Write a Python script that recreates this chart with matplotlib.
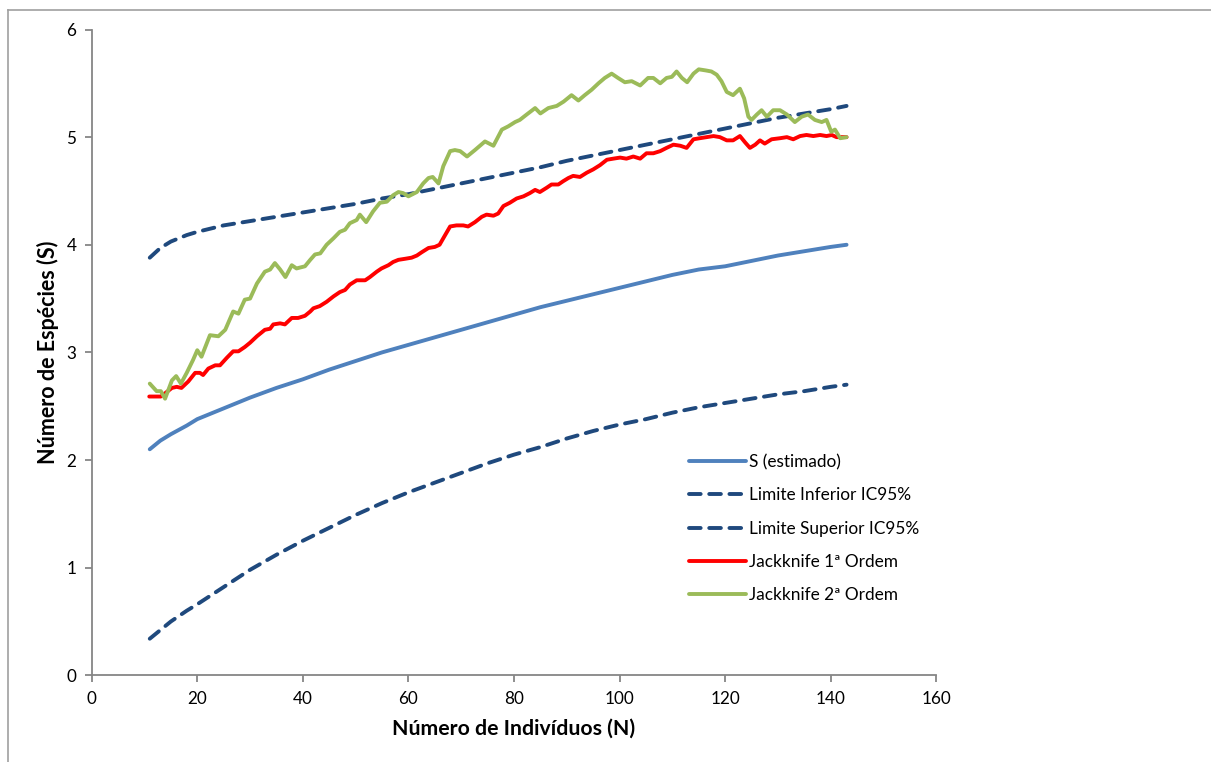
import matplotlib
matplotlib.use("Agg")
import matplotlib.pyplot as plt
from matplotlib.lines import Line2D

plt.rcParams['font.family'] = ['Lato', 'DejaVu Sans']

# Smooth curves: sample size N and species richness S
n_smooth = [11, 13, 15, 18, 20, 25, 30, 35, 40, 45, 50, 55, 60, 65, 70, 75, 80,
            85, 90, 95, 100, 105, 110, 115, 120, 125, 130, 135, 140, 143]
s_estimado = [2.10, 2.18, 2.24, 2.32, 2.38, 2.48, 2.58, 2.67, 2.75, 2.84, 2.92,
              3.00, 3.07, 3.14, 3.21, 3.28, 3.35, 3.42, 3.48, 3.54, 3.60, 3.66,
              3.72, 3.77, 3.80, 3.85, 3.90, 3.94, 3.98, 4.00]
limite_inferior = [0.34, 0.42, 0.50, 0.60, 0.66, 0.82, 0.98, 1.12, 1.25, 1.37,
                   1.49, 1.60, 1.70, 1.79, 1.88, 1.97, 2.05, 2.12, 2.20, 2.27,
                   2.33, 2.38, 2.44, 2.49, 2.53, 2.57, 2.61, 2.64, 2.68, 2.70]
limite_superior = [3.88, 3.97, 4.03, 4.09, 4.12, 4.18, 4.22, 4.26, 4.30, 4.34,
                   4.38, 4.43, 4.47, 4.52, 4.57, 4.62, 4.67, 4.72, 4.78, 4.83,
                   4.88, 4.93, 4.98, 5.03, 5.08, 5.13, 5.18, 5.22, 5.26, 5.29]

# Jackknife 1st order
n_jack1 = [10.9, 13.1, 13.9, 15.2, 16.1, 17.0, 18.3, 19.6, 20.5, 21.1, 22.1, 23.4,
           24.3, 25.6, 26.8, 27.8, 29.0, 30.0, 31.3, 32.8, 33.8, 34.4, 35.7, 36.6,
           37.9, 39.1, 40.4, 41.4, 42.0, 43.2, 44.5, 45.8, 47.0, 48.0, 48.9, 50.2,
           51.8, 52.7, 54.0, 54.9, 56.2, 57.1, 58.1, 59.4, 60.6, 61.6, 62.5, 63.8,
           65.0, 65.9, 66.6, 67.9, 69.1, 70.4, 71.3, 72.6, 73.9, 74.8, 76.1, 77.0,
           78.0, 79.2, 80.5, 81.8, 83.0, 84.0, 84.9, 86.2, 87.1, 88.4, 89.3, 90.3,
           91.2, 92.5, 93.8, 95.0, 96.3, 97.6, 98.8, 100.1, 101.3, 102.6, 103.9,
           105.1, 106.4, 107.7, 108.9, 110.2, 111.5, 112.7, 114.0, 115.2, 116.5,
           117.8, 119.0, 120.3, 121.5, 122.8, 123.8, 124.7, 125.7, 126.6, 127.5,
           128.8, 130.4, 131.7, 132.9, 134.2, 135.4, 136.7, 138.0, 139.2, 140.2,
           141.1, 143.0]
jack1 = [2.59, 2.59, 2.62, 2.67, 2.68, 2.67, 2.73, 2.81, 2.81, 2.79, 2.85, 2.88,
         2.88, 2.95, 3.01, 3.01, 3.05, 3.09, 3.15, 3.21, 3.22, 3.26, 3.27, 3.26,
         3.32, 3.32, 3.34, 3.38, 3.41, 3.43, 3.47, 3.52, 3.56, 3.58, 3.63, 3.67,
         3.67, 3.70, 3.75, 3.78, 3.81, 3.84, 3.86, 3.87, 3.88, 3.90, 3.93, 3.97,
         3.98, 4.00, 4.06, 4.17, 4.18, 4.18, 4.17, 4.21, 4.26, 4.28, 4.27, 4.29,
         4.36, 4.39, 4.43, 4.45, 4.48, 4.51, 4.49, 4.53, 4.56, 4.56, 4.59, 4.62,
         4.64, 4.63, 4.67, 4.70, 4.74, 4.79, 4.80, 4.81, 4.80, 4.82, 4.80,
         4.85, 4.85, 4.87, 4.90, 4.93, 4.92, 4.90, 4.98, 4.99, 5.00,
         5.01, 5.00, 4.97, 4.97, 5.01, 4.95, 4.90, 4.93, 4.97, 4.94,
         4.98, 4.99, 5.00, 4.98, 5.01, 5.02, 5.01, 5.02, 5.01, 5.02,
         5.00, 5.00]

# Jackknife 2nd order
n_jack2 = [11.0, 12.3, 13.1, 13.9, 15.2, 16.0, 16.9, 18.0, 19.2, 20.0, 20.8, 22.4,
           24.0, 25.3, 26.8, 27.8, 29.0, 30.0, 31.3, 32.8, 33.8, 34.7, 35.7, 36.7,
           37.9, 38.8, 40.4, 41.4, 42.3, 43.3, 44.5, 45.8, 47.0, 48.0, 48.9, 50.2,
           50.8, 52.0, 53.3, 54.6, 55.9, 57.1, 58.1, 59.0, 60.0, 61.6, 62.8, 63.8,
           64.6, 65.7, 66.6, 67.9, 68.8, 69.8, 71.1, 72.6, 74.5, 76.1, 77.7, 78.9,
           80.2, 81.1, 82.4, 84.0, 85.0, 86.5, 88.1, 89.4, 90.9, 92.2, 93.4, 94.7,
           96.0, 97.2, 98.5, 99.7, 101.0, 102.3, 103.9, 105.4, 106.4, 107.7, 108.9,
           109.9, 110.8, 111.8, 112.8, 114.0, 115.0, 116.3, 117.4, 118.4, 119.3,
           120.3, 121.5, 122.8, 123.6, 124.4, 125.0, 126.0, 126.9, 127.9, 129.1,
           130.4, 131.7, 133.2, 134.5, 135.7, 137.0, 138.3, 139.2, 140.1, 140.8,
           141.8, 143.0]
jack2 = [2.71, 2.64, 2.64, 2.57, 2.74, 2.78, 2.71, 2.81, 2.93, 3.02, 2.96, 3.16,
         3.15, 3.21, 3.38, 3.36, 3.49, 3.50, 3.64, 3.75, 3.77, 3.83, 3.77, 3.70,
         3.81, 3.78, 3.80, 3.86, 3.91, 3.92, 4.00, 4.06, 4.12, 4.14, 4.20, 4.23,
         4.28, 4.21, 4.31, 4.39, 4.40, 4.46, 4.49, 4.48, 4.45, 4.49, 4.57, 4.62,
         4.63, 4.57, 4.73, 4.87, 4.88, 4.87, 4.82, 4.88, 4.96, 4.92, 5.07, 5.10,
         5.14, 5.16, 5.21, 5.27, 5.22, 5.27, 5.29, 5.33, 5.39, 5.34, 5.39, 5.44,
         5.50, 5.55, 5.59, 5.55, 5.51, 5.52, 5.48, 5.55, 5.55, 5.50, 5.55,
         5.56, 5.61, 5.55, 5.51, 5.59, 5.63, 5.62, 5.61, 5.58, 5.52,
         5.42, 5.39, 5.45, 5.36, 5.19, 5.16, 5.21, 5.25, 5.19, 5.25,
         5.25, 5.21, 5.14, 5.19, 5.21, 5.16, 5.14, 5.16, 5.05, 5.07,
         4.99, 5.00]

labels = ['S (estimado)', 'Limite Inferior IC95%', 'Limite Superior IC95%',
          'Jackknife 1ª Ordem', 'Jackknife 2ª Ordem']

blue = '#4F81BD'
navy = '#1F497D'
red = '#FF0000'
green = '#9BBB59'
axis_gray = '#868686'

W, H = 1211, 762
fig = plt.figure(figsize=(W / 100, H / 100), dpi=100)
ax = fig.add_axes([91.7 / W, 1 - 675.3 / H, (936.3 - 91.7) / W, (675.3 - 29.5) / H])

lw = 2.8
dash = (3.0, 2.2)
l1, = ax.plot(n_smooth, s_estimado, color=blue, lw=lw, solid_capstyle='round')
l2, = ax.plot(n_smooth, limite_inferior, color=navy, lw=lw, dashes=dash,
              dash_capstyle='round')
l3, = ax.plot(n_smooth, limite_superior, color=navy, lw=lw, dashes=dash,
              dash_capstyle='round')
l4, = ax.plot(n_jack1, jack1, color=red, lw=lw, solid_joinstyle='round',
              solid_capstyle='round')
l5, = ax.plot(n_jack2, jack2, color=green, lw=lw, solid_joinstyle='round',
              solid_capstyle='round')

ax.set_xlim(0, 160)
ax.set_ylim(0, 6)
ax.set_xticks(range(0, 161, 20))
ax.set_yticks(range(0, 7))
for side in ('top', 'right'):
    ax.spines[side].set_visible(False)
for side in ('left', 'bottom'):
    ax.spines[side].set_color(axis_gray)
    ax.spines[side].set_linewidth(1.3)
ax.tick_params(direction='out', length=5, width=1.3, color=axis_gray,
               labelsize=12.3, labelcolor='black', pad=6)

ax.set_xlabel('Número de Indivíduos (N)', fontsize=15.3, fontweight='bold', labelpad=9)
ax.set_ylabel('Número de Espécies (S)', fontsize=15.5, fontweight='bold', labelpad=5)

leg = fig.legend([l1, l2, l3, l4, l5], labels, loc='upper left',
                 bbox_to_anchor=(689 / W, 1 - 454 / H), frameon=False,
                 fontsize=12.4, handlelength=3.3, handletextpad=0.2,
                 labelspacing=1.0, borderpad=0, borderaxespad=0)

# Outer chart frame (left and top edges)
fig.add_artist(Line2D([8 / W, 8 / W], [0, 1 - 10 / H], color='#A0A0A0', lw=1.2,
                      transform=fig.transFigure))
fig.add_artist(Line2D([8 / W, 1], [1 - 10 / H, 1 - 10 / H], color='#A0A0A0', lw=1.2,
                      transform=fig.transFigure))

fig.savefig('out.png', dpi=100)
